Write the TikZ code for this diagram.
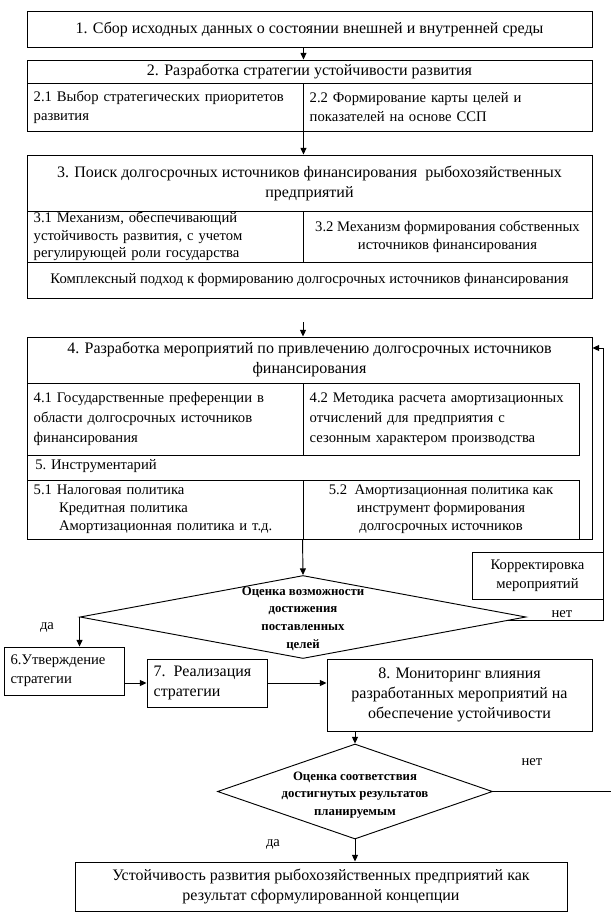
\documentclass[tikz,border=0pt]{standalone}
\usepackage{fontspec}
\setmainfont{Liberation Serif}
\usetikzlibrary{shapes.geometric,arrows.meta}
\definecolor{FlowInk}{HTML}{000000}

\begin{document}
\begin{tikzpicture}[x=0.75pt,y=-0.75pt,
    every node/.style={font=\fontsize{12}{15}\selectfont,text=FlowInk},
    celltext/.style={font=\fontsize{11}{#1}\selectfont},
    celltext/.default=14.5,
    cellbox/.style={draw=FlowInk,line width=0.7pt,inner xsep=5pt,inner ysep=0pt,align=left},
    ctrbox/.style={cellbox,align=center},
    dmd/.style={draw=FlowInk,line width=0.7pt,shape=diamond,inner sep=0pt},
    dmdtext/.style={font=\fontsize{9.6}{13.2}\selectfont\bfseries,align=center},
    arr/.style={draw=FlowInk,line width=0.7pt,-{Triangle[length=5pt,width=4.5pt]}},
    wire/.style={draw=FlowInk,line width=0.7pt}
  ]
    \useasboundingbox (0,0) rectangle (611,915);

    \node[ctrbox,minimum width=423.75pt,minimum height=27pt] (s1) at (309.5,29)
      {1. Сбор исходных данных о состоянии внешней и внутренней среды};

    \node[ctrbox,minimum width=423.75pt,minimum height=17.25pt] (s2) at (309.5,71.5)
      {2. Разработка стратегии устойчивости развития};
    \node[cellbox,celltext,text width=197pt,minimum height=36pt] (s21) at (165,107)
      {2.1 Выбор стратегических приоритетов\\развития};
    \node[cellbox,celltext,text width=206.75pt,minimum height=36pt] (s22) at (447.5,107)
      {2.2 Формирование карты целей и\\показателей на основе ССП};

    \node[ctrbox,minimum width=423.75pt,minimum height=42pt] (s3) at (309.5,183)
      {3. Поиск долгосрочных источников финансирования\ \ рыбохозяйственных\\предприятий};
    \node[cellbox,celltext=13.2,text width=197pt,minimum height=38.25pt] (s31) at (165,236.5)
      {3.1 Механизм, обеспечивающий\\устойчивость развития, с учетом\\регулирующей роли государства};
    \node[ctrbox,celltext=13.5,minimum width=216.75pt,minimum height=38.25pt] (s32) at (447.5,236.5)
      {3.2 Механизм формирования собственных\\источников финансирования};
    \node[ctrbox,celltext,minimum width=423.75pt,minimum height=27pt] (s33) at (309.5,280)
      {Комплексный подход к формированию долгосрочных источников финансирования};

    \coordinate (gap) at (303,322);
    \node[draw=FlowInk,line width=0.7pt,minimum width=423.75pt,minimum height=151.5pt,inner sep=0pt] (s4) at (309.5,438) {};
    \node[align=center] (s4t) at (309.5,359.5)
      {4. Разработка мероприятий по привлечению долгосрочных источников\\финансирования};
    \node[cellbox,celltext=15,text width=197pt,minimum height=54pt] (s41) at (165,419)
      {4.1 Государственные преференции в\\области долгосрочных источников\\финансирования};
    \node[cellbox,celltext=15,text width=197pt,minimum height=54pt] (s42) at (441,419)
      {4.2 Методика расчета амортизационных\\отчислений для предприятия с\\сезонным характером производства};
    \node[anchor=west,inner sep=0pt,celltext] (s5) at (35,466) {5. Инструментарий};
    \node[cellbox,celltext=13.5,text width=197pt,minimum height=44.25pt] (s51) at (165,509.5)
      {5.1 Налоговая политика\\\hspace*{19pt}Кредитная политика\\\hspace*{19pt}Амортизационная политика и т.д.};
    \node[ctrbox,celltext=13.5,minimum width=207pt,minimum height=44.25pt] (s52) at (441,509.5)
      {5.2\ \ Амортизационная политика как\\инструмент формирования\\долгосрочных источников};

    \node[dmd,minimum width=334.5pt,minimum height=62.25pt] (d1) at (303,617) {};
    \node[dmdtext] (d1t) at (303,618.5) {Оценка возможности\\достижения\\поставленных\\целей};
    \node[ctrbox,celltext,minimum width=98.25pt,minimum height=35.25pt] (kr) at (537.5,575.5)
      {Корректировка\\мероприятий};
    \coordinate (ret) at (603,348);
    \node[celltext] (no1) at (562,614) {нет};
    \node[celltext] (yes1) at (47,627) {да};

    \node[cellbox,celltext,text width=80pt,minimum height=36pt] (s6) at (64,671) {6.Утверждение\\стратегии};
    \node[cellbox,text width=80pt,minimum height=36pt] (s7) at (207,683) {7. Реализация\\стратегии};
    \node[ctrbox,minimum width=198.75pt,minimum height=54pt] (s8) at (459.5,695)
      {8. Мониторинг влияния\\разработанных мероприятий на\\обеспечение устойчивости};

    \node[dmd,minimum width=206.25pt,minimum height=71.25pt] (d2) at (355,791.5) {};
    \node[dmdtext] (d2t) at (355,795) {Оценка соответствия\\достигнутых результатов\\планируемым};
    \coordinate (out) at (611,791.5);
    \node[celltext] (no2) at (532,762) {нет};
    \node[celltext] (yes2) at (273,844) {да};
    \node[ctrbox,minimum width=369pt,minimum height=36.75pt] (s9) at (321,886.5)
      {Устойчивость развития рыбохозяйственных предприятий как\\результат сформулированной концепции};

    \draw[arr] (s21.east |- s1.south) -- (s21.east |- s2.north);
    \draw[arr] (s21.south east) -- (s21.south east |- s3.north);
    \draw[arr] (gap) -- (gap |- s4.north);
    \draw[arr] (s52.south west) -- (d1.north);
    \draw[arr] (d1.-1.5) -| (ret) -- (ret -| s4.east);
    \draw[arr] (d1.west) -- (d1.west |- s6.north);
    \draw[arr] (s6.east |- s7.west) -- (s7.west);
    \draw[arr] (s7.east) -- (s7.east -| s8.west);
    \draw[arr] (d2.north |- s8.south) -- (d2.north);
    \draw[wire] (d2.east) -- (out);
    \draw[arr] (d2.south) -- (d2.south |- s9.north);
  \end{tikzpicture}
\end{document}
